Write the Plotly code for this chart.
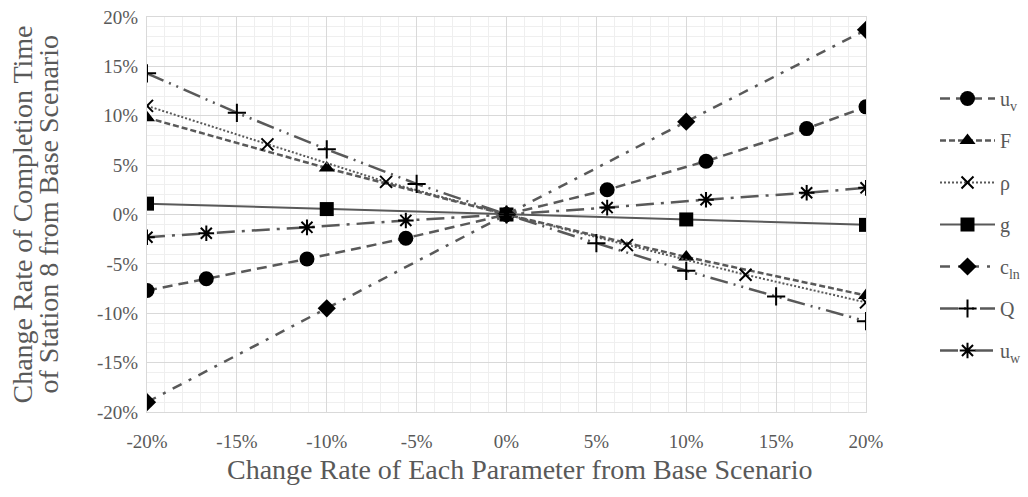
import plotly.graph_objects as go

# Sensitivity of station 8 completion time to each parameter (fractions)
x_third = [-0.20, -0.167, -0.111, -0.056, 0.0, 0.056, 0.111, 0.167, 0.20]
x_tenth = [-0.20, -0.10, 0.0, 0.10, 0.20]
x_rho = [-0.20, -0.133, -0.067, 0.0, 0.067, 0.133, 0.20]
x_q = [-0.20, -0.15, -0.10, -0.05, 0.0, 0.05, 0.10, 0.15, 0.20]

uv_vals = [-0.077, -0.065, -0.045, -0.024, 0.0, 0.025, 0.054, 0.087, 0.109]
f_vals = [0.098, 0.047, 0.0, -0.043, -0.082]
rho_vals = [0.110, 0.071, 0.033, 0.0, -0.031, -0.061, -0.089]
g_vals = [0.011, 0.0055, 0.0, -0.005, -0.0105]
cln_vals = [-0.190, -0.095, 0.0, 0.094, 0.187]
q_vals = [0.143, 0.103, 0.066, 0.031, 0.0, -0.029, -0.057, -0.083, -0.108]
uw_vals = [-0.023, -0.019, -0.013, -0.006, 0.0, 0.007, 0.015, 0.022, 0.027]

names = ["u<sub>v</sub>", "F", "ρ", "g", "c<sub>ln</sub>", "Q", "u<sub>w</sub>"]
tick_vals = [-0.20, -0.15, -0.10, -0.05, 0.0, 0.05, 0.10, 0.15, 0.20]
tick_text = ["-20%", "-15%", "-10%", "-5%", "0%", "5%", "10%", "15%", "20%"]

LINE = "#595959"
MARK = "#000000"
FONT = "Liberation Serif"
TEXT = "#595959"

series = [
    (x_third, uv_vals, "circle", 15, "10px,6px", 2.5, 0),
    (x_tenth, f_vals, "triangle-up", 14, "6px,3px", 2.5, 0),
    (x_rho, rho_vals, "x-thin-open", 12, "2px,2px", 2.0, 2),
    (x_tenth, g_vals, "square", 14, "solid", 2.0, 0),
    (x_tenth, cln_vals, "diamond", 14, "10px,8px,3px,8px", 2.5, 0),
    (x_q, q_vals, "cross-thin-open", 13, "18px,6px,2px,6px,2px,6px", 2.5, 2),
    (x_third, uw_vals, "asterisk-open", 13, "18px,7px,3px,7px", 2.5, 2),
]

fig = go.Figure()
for i, (xs, ys, sym, size, dash, lw, mlw) in enumerate(series):
    fig.add_trace(go.Scatter(
        x=xs, y=ys, name=names[i], mode="lines+markers",
        legendgroup=f"g{i}",
        line=dict(color=LINE, width=lw, dash=dash),
        marker=dict(symbol=sym, size=size, color=MARK,
                    line=dict(color=MARK, width=mlw)),
    ))

axis_common = dict(
    range=[-0.2, 0.2],
    tickvals=tick_vals,
    ticktext=tick_text,
    showgrid=True,
    gridcolor="#d9d9d9",
    gridwidth=1.3,
    zeroline=False,
    showline=True,
    linecolor="#d9d9d9",
    linewidth=1.3,
    mirror=True,
    ticks="",
    ticklen=0,
    tickfont=dict(family=FONT, size=19, color=TEXT),
    minor=dict(dtick=0.01, showgrid=True, gridcolor="#efefef", gridwidth=1),
)

fig.update_xaxes(**axis_common, ticklabelstandoff=12)
fig.update_yaxes(**axis_common, ticklabelstandoff=4)

# Axis titles: horizontal one below the tick labels, vertical one in two lines
fig.add_annotation(
    text="Change Rate of Each Parameter from Base Scenario", showarrow=False,
    xref="paper", yref="paper",
    x=(519 - 147) / 719, y=-(470 - 412) / 395, xanchor="center", yanchor="middle",
    font=dict(family=FONT, size=28, color=TEXT),
)
for xpos, txt in [(22, "Change Rate of Completion Time"),
                  (48, "of Station 8 from Base Scenario")]:
    fig.add_annotation(
        text=txt, textangle=-90, showarrow=False,
        xref="paper", yref="paper",
        x=(xpos - 147) / 719, y=0.5, xanchor="center", yanchor="middle",
        font=dict(family=FONT, size=28, color=TEXT),
    )

fig.update_layout(
    width=1028, height=497,
    margin=dict(l=147, r=162, t=17, b=85, autoexpand=False),
    paper_bgcolor="white",
    plot_bgcolor="white",
    showlegend=True,
    legend=dict(
        x=(935 - 147) / 719, y=0.843, xanchor="left", yanchor="top",
        font=dict(family=FONT, size=20, color=TEXT),
        tracegroupgap=13, itemwidth=55, bgcolor="rgba(0,0,0,0)",
    ),
)

fig.write_html("out.html")
